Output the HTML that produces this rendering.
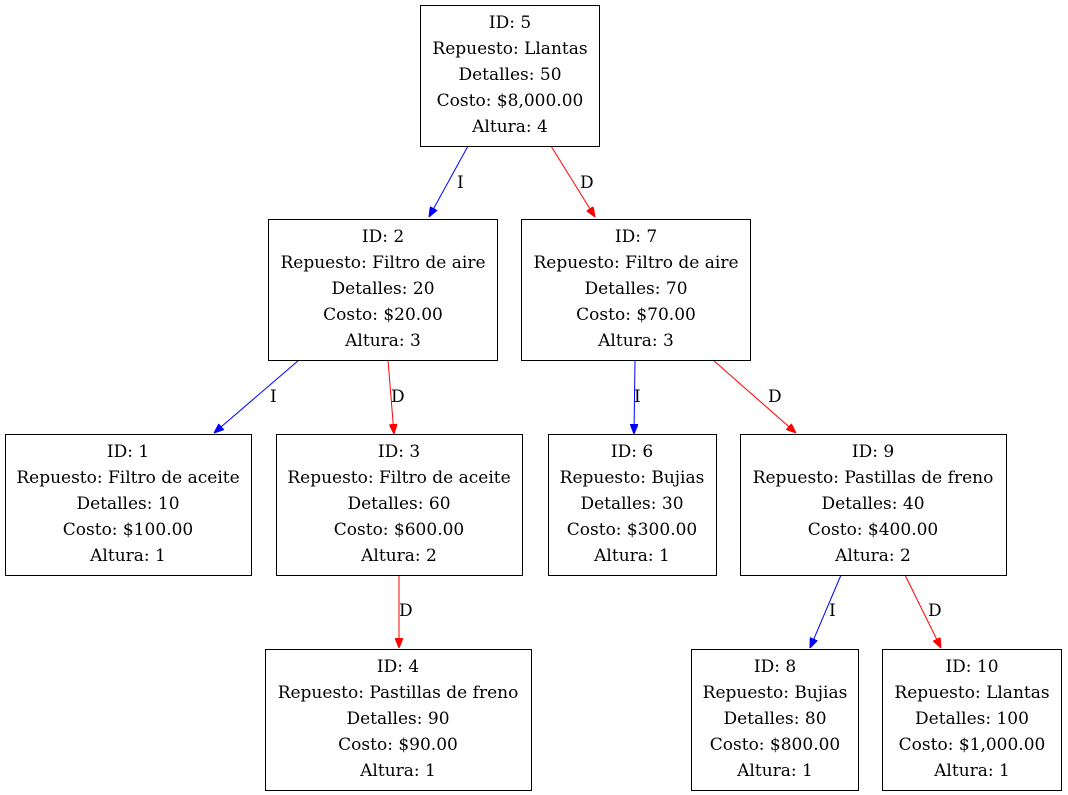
<!DOCTYPE html>
<html><head><meta charset="utf-8"><style>
html,body{margin:0;padding:0;background:#fff;}
svg{display:block;}
text{font-family:"DejaVu Serif","Liberation Serif",serif;font-size:17px;fill:#000;}
</style></head><body>
<svg width="1068" height="795" viewBox="0 0 1068 795" xmlns="http://www.w3.org/2000/svg">
<defs>
<marker id="ab" markerWidth="10" markerHeight="8" refX="10" refY="4" orient="auto" markerUnits="userSpaceOnUse"><path d="M0,0 L10,4 L0,8 Z" fill="#00f" stroke="#00f"/></marker>
<marker id="ar" markerWidth="10" markerHeight="8" refX="10" refY="4" orient="auto" markerUnits="userSpaceOnUse"><path d="M0,0 L10,4 L0,8 Z" fill="#f00" stroke="#f00"/></marker>
</defs>
<g fill="none" stroke-width="1">
<line x1="468" y1="146" x2="429" y2="217" stroke="#00f" marker-end="url(#ab)"/>
<line x1="551" y1="146" x2="595" y2="217" stroke="#f00" marker-end="url(#ar)"/>
<line x1="299" y1="360" x2="214" y2="433" stroke="#00f" marker-end="url(#ab)"/>
<line x1="388" y1="360" x2="394" y2="434" stroke="#f00" marker-end="url(#ar)"/>
<line x1="635" y1="360" x2="634" y2="434" stroke="#00f" marker-end="url(#ab)"/>
<line x1="713" y1="360" x2="796" y2="433" stroke="#f00" marker-end="url(#ar)"/>
<line x1="399" y1="575" x2="399" y2="648" stroke="#f00" marker-end="url(#ar)"/>
<line x1="841" y1="575" x2="810" y2="648" stroke="#00f" marker-end="url(#ab)"/>
<line x1="905" y1="575" x2="941" y2="648" stroke="#f00" marker-end="url(#ar)"/>
</g>
<g>
<text x="457" y="188">I</text><text x="580" y="188">D</text>
<text x="270" y="402">I</text><text x="391" y="402">D</text>
<text x="634" y="402">I</text><text x="768" y="402">D</text>
<text x="399" y="616">D</text><text x="829" y="616">I</text><text x="928" y="616">D</text>
</g>
<g fill="#fff" stroke="#000" stroke-width="1">
<rect x="420.5" y="5.5" width="179" height="141"/>
<rect x="268.5" y="219.5" width="229" height="141"/>
<rect x="521.5" y="219.5" width="229" height="141"/>
<rect x="5.5" y="434.5" width="246" height="141"/>
<rect x="276.5" y="434.5" width="246" height="141"/>
<rect x="548.5" y="434.5" width="168" height="141"/>
<rect x="740.5" y="434.5" width="266" height="141"/>
<rect x="265.5" y="649.5" width="266" height="141"/>
<rect x="691.5" y="649.5" width="167" height="141"/>
<rect x="882.5" y="649.5" width="179" height="141"/>
</g>
<g text-anchor="middle">
<g transform="translate(510,5)"><text y="23">ID: 5</text><text y="49">Repuesto: Llantas</text><text y="75">Detalles: 50</text><text y="101">Costo: $8,000.00</text><text y="127">Altura: 4</text></g>
<g transform="translate(383,219)"><text y="23">ID: 2</text><text y="49">Repuesto: Filtro de aire</text><text y="75">Detalles: 20</text><text y="101">Costo: $20.00</text><text y="127">Altura: 3</text></g>
<g transform="translate(636,219)"><text y="23">ID: 7</text><text y="49">Repuesto: Filtro de aire</text><text y="75">Detalles: 70</text><text y="101">Costo: $70.00</text><text y="127">Altura: 3</text></g>
<g transform="translate(128,434)"><text y="23">ID: 1</text><text y="49">Repuesto: Filtro de aceite</text><text y="75">Detalles: 10</text><text y="101">Costo: $100.00</text><text y="127">Altura: 1</text></g>
<g transform="translate(399,434)"><text y="23">ID: 3</text><text y="49">Repuesto: Filtro de aceite</text><text y="75">Detalles: 60</text><text y="101">Costo: $600.00</text><text y="127">Altura: 2</text></g>
<g transform="translate(632,434)"><text y="23">ID: 6</text><text y="49">Repuesto: Bujias</text><text y="75">Detalles: 30</text><text y="101">Costo: $300.00</text><text y="127">Altura: 1</text></g>
<g transform="translate(873,434)"><text y="23">ID: 9</text><text y="49">Repuesto: Pastillas de freno</text><text y="75">Detalles: 40</text><text y="101">Costo: $400.00</text><text y="127">Altura: 2</text></g>
<g transform="translate(398,649)"><text y="23">ID: 4</text><text y="49">Repuesto: Pastillas de freno</text><text y="75">Detalles: 90</text><text y="101">Costo: $90.00</text><text y="127">Altura: 1</text></g>
<g transform="translate(775,649)"><text y="23">ID: 8</text><text y="49">Repuesto: Bujias</text><text y="75">Detalles: 80</text><text y="101">Costo: $800.00</text><text y="127">Altura: 1</text></g>
<g transform="translate(972,649)"><text y="23">ID: 10</text><text y="49">Repuesto: Llantas</text><text y="75">Detalles: 100</text><text y="101">Costo: $1,000.00</text><text y="127">Altura: 1</text></g>
</g>
</svg>
</body></html>
